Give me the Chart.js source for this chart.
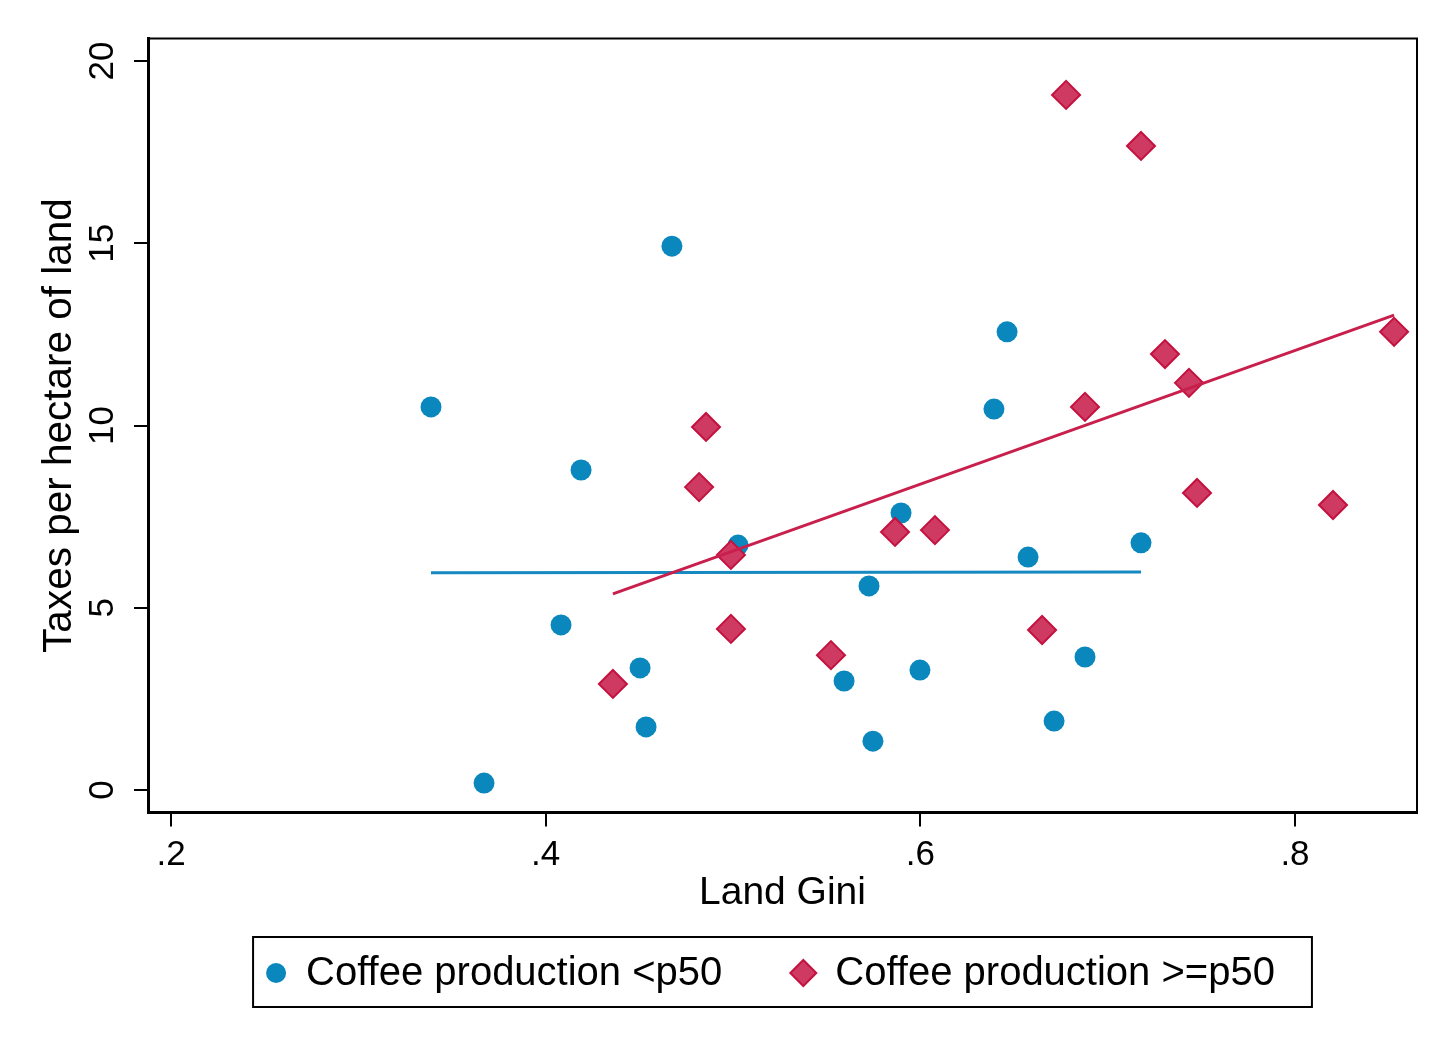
<!DOCTYPE html>
<html>
<head>
<meta charset="utf-8">
<script src="https://cdn.jsdelivr.net/npm/chart.js@4/dist/chart.umd.min.js"></script>
<style>
  html, body { margin: 0; padding: 0; background: #ffffff; }
  #wrap { width: 1456px; height: 1059px; }
</style>
</head>
<body>
<div id="wrap"><canvas id="c" width="1456" height="1059"></canvas></div>
<script>
// ---- Data ----
const seriesLabels = ['Coffee production <p50', 'Coffee production >=p50'];

const lowGini  = [0.3388, 0.3671, 0.4189, 0.4082, 0.4504, 0.4536, 0.4674, 0.5027, 0.5593, 0.5726,
                  0.5747, 0.5897, 0.5998, 0.6393, 0.6463, 0.6575, 0.6714, 0.6879, 0.7178];
const lowTaxes = [10.51, 0.19, 8.78, 4.53, 3.35, 1.73, 14.92, 6.72, 2.99, 5.60,
                  1.34, 7.60, 3.29, 10.45, 12.57, 6.39, 1.89, 3.65, 6.78];

const highGini  = [0.4359, 0.4819, 0.4856, 0.4989, 0.4989, 0.5523, 0.5865, 0.6078, 0.6650, 0.6778,
                   0.6879, 0.7178, 0.7306, 0.7434, 0.7477, 0.8203, 0.8529];
const highTaxes = [2.91, 8.31, 9.96, 6.45, 4.42, 3.70, 7.08, 7.13, 4.39, 19.07,
                   10.51, 17.67, 11.96, 11.17, 8.15, 7.82, 12.57];

// fitted lines (end points)
const lowFitGini  = [0.3388, 0.7178];
const lowFitTaxes = [5.96, 5.98];
const highFitGini  = [0.4359, 0.8529];
const highFitTaxes = [5.38, 13.03];

const xTickValues = [0.2, 0.4, 0.6, 0.8];
const xTickLabels = ['.2', '.4', '.6', '.8'];
const yTickValues = [0, 5, 10, 15, 20];
const yTickLabels = ['0', '5', '10', '15', '20'];

const xTitle = 'Land Gini';
const yTitle = 'Taxes per hectare of land';

// ---- Styling ----
const FONT = "'Liberation Sans', Arial, Helvetica, sans-serif";
const BLUE = '#0a87bd';
const BLUE_LINE = '#1689c0';
const RED_FILL = '#cf3a63';
const RED_EDGE = '#c4123f';
const RED_LINE = '#c81f4d';

const toPts = (xs, ys) => xs.map((x, i) => ({ x: x, y: ys[i] }));

// Frame around plot region + custom boxed legend
const framePlugin = {
  id: 'frameAndLegend',
  afterDraw(chart) {
    const ctx = chart.ctx;
    const a = chart.chartArea;
    ctx.save();
    ctx.strokeStyle = '#000';
    ctx.lineWidth = 2;
    ctx.strokeRect(a.left, a.top, a.right - a.left, a.bottom - a.top);

    // legend
    const ds = chart.data.datasets;
    ctx.font = '40px ' + FONT;
    const t1 = ds[0].label, t2 = ds[1].label;
    const w1 = ctx.measureText(t1).width;
    const w2 = ctx.measureText(t2).width;
    const total = 23 + 30 + w1 + 81 + 32 + w2 + 37;
    const cx = (a.left + a.right) / 2;
    const boxL = cx - total / 2;
    const boxT = 937, boxH = 70;
    const cy = boxT + boxH / 2;
    ctx.lineWidth = 2;
    ctx.strokeStyle = '#000';
    ctx.strokeRect(boxL, boxT, total, boxH);

    // marker 1: circle
    const m1 = boxL + 23;
    ctx.beginPath();
    ctx.arc(m1, cy + 1, 10, 0, Math.PI * 2);
    ctx.fillStyle = ds[0].backgroundColor;
    ctx.fill();
    // text 1
    ctx.fillStyle = '#000';
    ctx.textBaseline = 'middle';
    ctx.textAlign = 'left';
    const x1 = m1 + 30;
    ctx.fillText(t1, x1, cy + 2);
    // marker 2: diamond
    const m2 = x1 + w1 + 81;
    const r = 13;
    ctx.beginPath();
    ctx.moveTo(m2, cy + 1 - r);
    ctx.lineTo(m2 + r, cy + 1);
    ctx.lineTo(m2, cy + 1 + r);
    ctx.lineTo(m2 - r, cy + 1);
    ctx.closePath();
    ctx.fillStyle = ds[1].backgroundColor;
    ctx.fill();
    ctx.lineWidth = 2;
    ctx.strokeStyle = ds[1].borderColor;
    ctx.stroke();
    // text 2
    ctx.fillStyle = '#000';
    ctx.fillText(t2, m2 + 32, cy + 2);
    ctx.restore();
  }
};

new Chart(document.getElementById('c'), {
  type: 'scatter',
  data: {
    datasets: [
      {
        label: seriesLabels[0],
        data: toPts(lowGini, lowTaxes),
        pointStyle: 'circle',
        pointRadius: 10.5,
        pointHoverRadius: 10.5,
        backgroundColor: BLUE,
        borderColor: BLUE,
        borderWidth: 0,
        order: 4
      },
      {
        label: seriesLabels[1],
        data: toPts(highGini, highTaxes),
        pointStyle: 'rectRot',
        pointRadius: 14,
        pointHoverRadius: 14,
        backgroundColor: RED_FILL,
        borderColor: RED_EDGE,
        borderWidth: 2,
        order: 3
      },
      {
        label: 'fit low',
        data: toPts(lowFitGini, lowFitTaxes),
        showLine: true,
        pointRadius: 0,
        borderColor: BLUE_LINE,
        backgroundColor: BLUE_LINE,
        borderWidth: 3,
        fill: false,
        order: 2
      },
      {
        label: 'fit high',
        data: toPts(highFitGini, highFitTaxes),
        showLine: true,
        pointRadius: 0,
        borderColor: RED_LINE,
        backgroundColor: RED_LINE,
        borderWidth: 3,
        fill: false,
        order: 1
      }
    ]
  },
  options: {
    responsive: false,
    animation: false,
    devicePixelRatio: 1,
    layout: { padding: { left: 0, top: 38.5, right: 39, bottom: 142.1 } },
    plugins: {
      legend: { display: false },
      tooltip: { enabled: false }
    },
    scales: {
      x: {
        type: 'linear',
        position: 'bottom',
        min: 0.18772,
        max: 0.86513,
        afterBuildTicks: (s) => { s.ticks = xTickValues.map(v => ({ value: v })); },
        afterFit: (s) => { s.height = 104.4; },
        ticks: {
          autoSkip: false,
          maxRotation: 0,
          minRotation: 0,
          padding: 8,
          color: '#000',
          font: { family: FONT, size: 35 },
          callback: (v, i) => xTickLabels[xTickValues.indexOf(v)] ?? ''
        },
        grid: {
          display: true,
          drawOnChartArea: false,
          drawTicks: true,
          tickLength: 14,
          lineWidth: 2,
          color: '#000'
        },
        border: { display: true, color: '#000', width: 3 },
        title: {
          display: true,
          text: xTitle,
          color: '#000',
          font: { family: FONT, size: 39 },
          padding: { top: 0, bottom: 0 }
        }
      },
      y: {
        type: 'linear',
        position: 'left',
        min: -0.617,
        max: 20.617,
        afterBuildTicks: (s) => { s.ticks = yTickValues.map(v => ({ value: v })); },
        afterFit: (s) => { s.width = 148; },
        ticks: {
          autoSkip: false,
          minRotation: 90,
          maxRotation: 90,
          crossAlign: 'center',
          padding: 11,
          color: '#000',
          font: { family: FONT, size: 35 },
          callback: (v) => yTickLabels[yTickValues.indexOf(v)] ?? ''
        },
        grid: {
          display: true,
          drawOnChartArea: false,
          drawTicks: true,
          tickLength: 14,
          lineWidth: 2,
          color: '#000'
        },
        border: { display: true, color: '#000', width: 3 },
        title: {
          display: true,
          text: yTitle,
          color: '#000',
          font: { family: FONT, size: 40.5 },
          padding: { top: 36, bottom: 0 }
        }
      }
    }
  },
  plugins: [framePlugin]
});
</script>
</body>
</html>
